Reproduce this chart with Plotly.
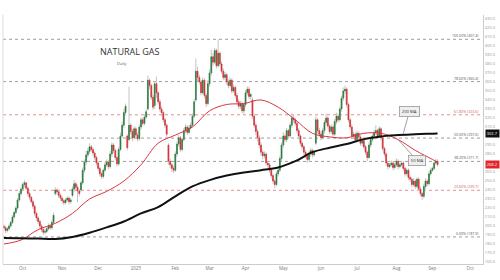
import pandas as pd
import plotly.graph_objects as go

# ---------------- data ----------------
start_date = "2024-09-16"
end_date = "2025-10-10"

open_ = [200, 198, 195, 197, 200, 204, 210, 215, 220, 229,
         236, 241, 246, 248, 242, 236, 232, 227, 222, 214,
         209, 205, 200, 196, 193, 194, 197, 200, 198, 204,
         236, 240, 238, 234, 231, 228, 226, 229, 231, 227,
         234, 241, 247, 243, 239, 240, 248, 262, 271, 279,
         283, 288, 285, 281, 276, 270, 264, 258, 255, 262,
         268, 271, 266, 280, 290, 284, 276, 269, 285, 300,
         312, 326, 300, 296, 312, 305, 298, 308, 301, 297,
         310, 318, 314, 321, 330, 362, 356, 343, 334, 358,
         348, 338, 330, 326, 318, 312, 290, 272, 268, 264,
         262, 280, 291, 298, 285, 296, 306, 310, 304, 309,
         312, 322, 340, 372, 365, 360, 348, 362, 345, 336,
         358, 370, 388, 382, 395, 378, 392, 380, 372, 365,
         368, 360, 356, 362, 350, 354, 345, 338, 333, 336,
         328, 335, 348, 352, 344, 340, 322, 312, 305, 298,
         290, 282, 278, 280, 270, 268, 262, 256, 250, 246,
         258, 262, 275, 290, 300, 296, 306, 300, 312, 320,
         318, 314, 306, 300, 292, 288, 282, 278, 274, 280,
         284, 279, 292, 318, 306, 302, 298, 306, 315, 320,
         311, 305, 310, 302, 316, 322, 318, 330, 342, 350,
         352, 335, 318, 310, 300, 302, 296, 303, 299, 292,
         295, 288, 282, 276, 290, 296, 300, 304, 306, 300,
         308, 298, 286, 280, 270, 266, 268, 270, 265, 268,
         272, 266, 268, 270, 264, 258, 262, 254, 252, 246,
         250, 244, 252, 241, 236, 233, 244, 250, 247, 258,
         262, 264, 270, 272]

high = [202, 200, 199, 202, 206, 212, 217, 222, 231, 239,
        243, 249, 251, 249, 244, 238, 233, 229, 224, 216,
        211, 207, 202, 198, 197, 199, 203, 202, 207, 215,
        243, 242, 240, 236, 233, 230, 231, 233, 233, 231,
        244, 251, 249, 246, 241, 250, 265, 274, 284, 287,
        292, 290, 287, 283, 278, 272, 266, 260, 264, 271,
        274, 273, 283, 293, 292, 286, 278, 288, 304, 316,
        330, 336, 302, 355, 314, 308, 311, 310, 304, 313,
        321, 320, 324, 330, 367, 364, 358, 346, 361, 366,
        350, 341, 333, 328, 320, 314, 292, 275, 270, 267,
        283, 294, 301, 300, 298, 309, 313, 312, 312, 315,
        325, 341, 386, 377, 368, 362, 365, 364, 348, 362,
        374, 396, 392, 398, 397, 407.4, 394, 383, 375, 371,
        370, 363, 365, 364, 357, 356, 348, 341, 339, 338,
        337, 351, 355, 355, 348, 343, 325, 315, 308, 301,
        293, 285, 283, 282, 272, 270, 264, 258, 252, 261,
        265, 278, 293, 304, 302, 309, 308, 315, 325, 323,
        320, 316, 309, 302, 294, 290, 284, 280, 283, 287,
        286, 284, 322, 320, 309, 305, 309, 318, 325, 322,
        313, 313, 312, 319, 326, 325, 333, 345, 354, 356,
        354, 337, 320, 313, 305, 304, 306, 305, 301, 297,
        297, 290, 284, 293, 299, 303, 307, 312, 308, 311,
        310, 300, 288, 282, 272, 270, 273, 272, 270, 275,
        274, 270, 272, 272, 266, 264, 264, 256, 254, 253,
        252, 254, 254, 244, 238, 247, 253, 252, 261, 265,
        266, 273, 275, 274]

low = [196, 192, 193, 195, 198, 202, 208, 213, 218, 227,
       234, 239, 243, 240, 233, 229, 225, 219, 211, 206,
       202, 197, 193, 190, 191, 192, 195, 196, 196, 202,
       234, 235, 231, 228, 225, 223, 224, 227, 224, 225,
       232, 238, 240, 226, 233, 238, 246, 259, 268, 276,
       280, 282, 278, 273, 267, 261, 255, 252, 253, 260,
       265, 263, 264, 277, 281, 273, 266, 267, 283, 298,
       309, 323, 284, 294, 302, 294, 296, 298, 294, 295,
       307, 311, 312, 319, 328, 352, 340, 329, 330, 342,
       335, 327, 322, 315, 309, 299, 268, 264, 260, 259,
       260, 277, 288, 282, 283, 294, 303, 301, 302, 307,
       310, 320, 338, 361, 357, 345, 346, 342, 332, 334,
       355, 367, 378, 380, 375, 376, 377, 369, 362, 362,
       357, 353, 354, 347, 348, 342, 335, 330, 330, 325,
       325, 332, 345, 341, 340, 319, 309, 301, 294, 286,
       278, 274, 275, 267, 265, 259, 253, 247, 242, 244,
       255, 260, 272, 287, 293, 293, 297, 298, 309, 315,
       311, 303, 297, 289, 285, 279, 275, 270, 272, 277,
       276, 277, 290, 303, 299, 295, 296, 303, 312, 308,
       302, 302, 299, 300, 313, 315, 316, 327, 339, 347,
       332, 315, 307, 297, 298, 293, 294, 296, 289, 289,
       285, 279, 272, 275, 287, 293, 297, 301, 297, 298,
       295, 283, 277, 267, 263, 264, 266, 262, 263, 266,
       263, 264, 266, 261, 255, 256, 251, 249, 243, 244,
       241, 242, 239, 233, 229, 231, 241, 244, 245, 256,
       260, 262, 268, 266]

close = [198, 195, 197, 200, 204, 210, 215, 220, 229, 236,
         241, 246, 248, 242, 236, 232, 227, 222, 214, 209,
         205, 200, 196, 193, 194, 197, 200, 198, 204, 212,
         240, 238, 234, 231, 228, 226, 229, 231, 227, 229,
         241, 247, 243, 239, 236, 248, 262, 271, 279, 283,
         288, 285, 281, 276, 270, 264, 258, 255, 262, 268,
         271, 266, 280, 290, 284, 276, 269, 285, 300, 312,
         326, 333, 287, 312, 305, 298, 308, 301, 297, 310,
         318, 314, 321, 327, 362, 356, 343, 332, 358, 348,
         338, 330, 326, 318, 312, 302, 272, 268, 264, 262,
         280, 291, 298, 285, 296, 306, 310, 304, 309, 312,
         322, 338, 372, 365, 360, 348, 362, 345, 336, 358,
         370, 388, 382, 395, 378, 392, 380, 372, 365, 368,
         360, 356, 362, 350, 354, 345, 338, 333, 336, 328,
         335, 348, 352, 344, 346, 322, 312, 305, 298, 290,
         282, 278, 280, 270, 268, 262, 256, 250, 246, 258,
         262, 275, 290, 300, 296, 306, 300, 312, 320, 318,
         314, 306, 300, 292, 288, 282, 278, 274, 280, 284,
         279, 282, 318, 306, 302, 298, 306, 315, 320, 311,
         305, 310, 302, 316, 322, 318, 330, 342, 350, 352,
         335, 318, 310, 300, 302, 296, 303, 299, 292, 295,
         288, 282, 276, 290, 296, 300, 304, 306, 300, 308,
         298, 286, 280, 270, 266, 268, 270, 265, 268, 272,
         266, 268, 270, 264, 258, 262, 254, 252, 246, 250,
         244, 252, 241, 236, 233, 244, 250, 247, 258, 262,
         264, 270, 272, 268.2]

# moving averages sampled every 10 bars
ma_idx = [0, 10, 20, 30, 40, 50, 60, 70, 80, 90, 100, 110, 120, 130,
          140, 150, 160, 170, 180, 190, 200, 210, 220, 230, 240, 250, 253]
ma200 = [186.7, 186.5, 186.0, 185.5, 187.8, 192.5, 198.5, 205.0, 214.0,
         221.0, 233.0, 244.0, 251.0, 256.0, 259.5, 262.0, 265.0, 272.0,
         282.0, 287.0, 291.0, 296.5, 299.5, 301.0, 302.0, 302.5, 302.7]
ma50 = [180.0, 184.4, 196.0, 203.0, 214.0, 230.0, 238.5, 250.0, 268.0,
        292.0, 301.0, 310.0, 328.0, 335.0, 336.0, 340.0, 332.0, 318.0,
        303.0, 299.0, 298.0, 303.0, 303.0, 296.0, 284.0, 274.0, 271.0]

month_labels = ["Oct", "Nov", "Dec", "2025", "Feb", "Mar", "Apr",
                "May", "Jun", "Jul", "Aug", "Sep", "Oct"]

# right-axis tick labels (300 and 270 are covered by the value boxes)
y_ticks = [160, 170, 180, 190, 200, 210, 220, 230, 240, 250, 260, 280, 290,
           310, 320, 330, 340, 350, 360, 370, 380, 390, 400, 410, 420, 430]

fib_high = 407.4
fib_low = 187.9
fib_ratios = [1.0, 0.786, 0.618, 0.5, 0.382, 0.236, 0.0]
fib_red = [0.618, 0.236]

title_text = "NATURAL GAS"
subtitle_text = "Daily"
last_ma200_label = "302.7"
last_price_label = "268.2"

# ---------------- figure ----------------
dates = pd.bdate_range(start_date, end_date)
n = len(close)
xs = list(range(n))

tickvals = []
for j in range(1, len(dates)):
    if dates[j].month != dates[j - 1].month:
        tickvals.append(j)
ticktext = month_labels[:len(tickvals)]

GREEN = "#1f7a36"
RED = "#e3242b"
WICK = "#c4c4c4"

fig = go.Figure()

# wicks (grey)
fig.add_trace(go.Candlestick(
    x=xs, open=open_, high=high, low=low, close=close,
    increasing=dict(line=dict(color=WICK, width=1), fillcolor=WICK),
    decreasing=dict(line=dict(color=WICK, width=1), fillcolor=WICK),
    whiskerwidth=0, hoverinfo="skip", showlegend=False))

# bodies
body_hi = [max(o, c) for o, c in zip(open_, close)]
body_lo = [min(o, c) for o, c in zip(open_, close)]
fig.add_trace(go.Candlestick(
    x=xs, open=open_, high=body_hi, low=body_lo, close=close,
    increasing=dict(line=dict(color=GREEN, width=0.5), fillcolor=GREEN),
    decreasing=dict(line=dict(color=RED, width=0.5), fillcolor=RED),
    whiskerwidth=0, showlegend=False))

fig.add_trace(go.Scatter(x=ma_idx, y=ma50, mode="lines",
                         line=dict(color="#d9363e", width=1, shape="spline"),
                         showlegend=False, hoverinfo="skip"))
fig.add_trace(go.Scatter(x=ma_idx, y=ma200, mode="lines",
                         line=dict(color="#111111", width=2, shape="spline"),
                         showlegend=False, hoverinfo="skip"))

shapes = []
annotations = []
for r in fib_ratios:
    lvl = fib_low + r * (fib_high - fib_low)
    is_red = r in fib_red
    col = "rgba(215,90,90,0.85)" if is_red else "rgba(120,120,120,0.9)"
    shapes.append(dict(type="line", xref="paper", x0=0, x1=1, yref="y",
                       y0=lvl, y1=lvl, line=dict(color=col, width=0.8, dash="dot"),
                       layer="below"))
    annotations.append(dict(
        xref="paper", x=0.994, yref="y", y=lvl, xanchor="right", yanchor="bottom",
        text=f"{r * 100:.2f}% ({lvl:.1f})", showarrow=False,
        font=dict(size=3.6, color="#d06060" if is_red else "#555555",
                  family="Open Sans"), yshift=-1))

# left border line
shapes.append(dict(type="line", xref="paper", x0=0, x1=0, yref="paper", y0=0, y1=1,
                   line=dict(color="#dddddd", width=1)))

annotations += [
    dict(xref="paper", yref="paper", x=0.198, y=0.855, xanchor="left", yanchor="middle",
         text=title_text, showarrow=False,
         font=dict(size=9, color="#333333", family="Open Sans")),
    dict(xref="paper", yref="paper", x=0.233, y=0.807, xanchor="left", yanchor="middle",
         text=subtitle_text, showarrow=False,
         font=dict(size=4, color="#555555", family="Open Sans")),
    dict(xref="x", yref="y", x=233, y=ma200[-2], ax=6, ay=-22,
         text="200 MA", showarrow=True, arrowhead=0, arrowwidth=0.8, arrowcolor="#888888",
         bgcolor="#eeeeee", bordercolor="#999999", borderwidth=0.8, borderpad=2,
         font=dict(size=4.2, color="#333333", family="Open Sans")),
    dict(xref="x", yref="y", x=230, y=296.0, ax=19, ay=21,
         text="50 MA", showarrow=True, arrowhead=0, arrowwidth=0.8, arrowcolor="#888888",
         bgcolor="#eeeeee", bordercolor="#999999", borderwidth=0.8, borderpad=2,
         font=dict(size=4.2, color="#333333", family="Open Sans")),
    dict(xref="paper", yref="y", x=1.0, y=ma200[-1], xanchor="left", yanchor="middle",
         xshift=2, text=last_ma200_label, showarrow=False, bgcolor="#111111",
         borderpad=0.8, font=dict(size=4, color="#ffffff", family="Open Sans")),
    dict(xref="paper", yref="y", x=1.0, y=close[-1], xanchor="left", yanchor="middle",
         xshift=2, text=last_price_label, showarrow=False, bgcolor="#e3242b",
         borderpad=0.8, font=dict(size=4, color="#ffffff", family="Open Sans")),
]

fig.update_layout(
    width=500, height=280,
    margin=dict(l=3, r=17, t=15, b=16),
    paper_bgcolor="white", plot_bgcolor="white",
    showlegend=False,
    shapes=shapes, annotations=annotations,
    xaxis=dict(range=[-0.5, len(dates) - 0.5], tickvals=tickvals, ticktext=ticktext,
               showgrid=False, zeroline=False, showline=True, linecolor="#cccccc",
               linewidth=1, ticks="", tickfont=dict(size=4.5, color="#777777",
                                                      family="Open Sans"),
               rangeslider=dict(visible=False), fixedrange=True),
    yaxis=dict(range=[157.8, 434.4], side="right", tickvals=y_ticks,
               ticktext=[f"{v:.1f}" for v in y_ticks],
               showgrid=False, zeroline=False, showline=True,
               linecolor="#cccccc", linewidth=1, ticks="",
               tickfont=dict(size=4, color="#999999", family="Open Sans"),
               fixedrange=True),
)

fig.write_html("out.html")
